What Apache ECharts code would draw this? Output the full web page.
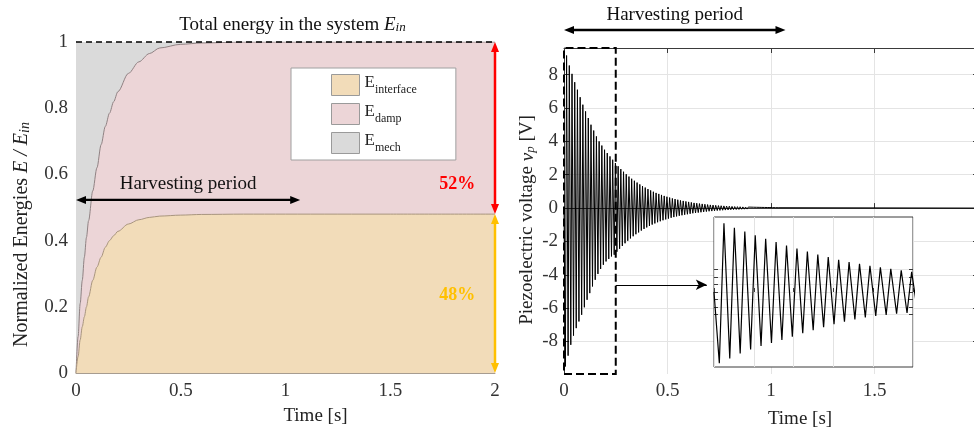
<!DOCTYPE html>
<html>
<head>
<meta charset="utf-8">
<title>Energy balance and piezoelectric voltage</title>
<script src="https://cdn.jsdelivr.net/npm/echarts@6.0.0/dist/echarts.min.js"></script>
<style>
html, body { margin: 0; padding: 0; background: #fff; }
#chart { width: 974px; height: 432px; }
</style>
</head>
<body>
<div id="chart"></div>
<script>
// ---------- Left panel: normalized energy budget (E / E_in) ----------
const energyTime = [0, 0.01, 0.02, 0.03, 0.04, 0.05, 0.06, 0.08, 0.10, 0.12, 0.14, 0.16, 0.18, 0.20, 0.25, 0.30, 0.35, 0.40, 0.50, 0.60, 0.80, 1.00, 1.50, 2.00];
const eInterface = [0, 0.05, 0.10, 0.14, 0.17, 0.20, 0.23, 0.28, 0.32, 0.35, 0.38, 0.40, 0.415, 0.428, 0.45, 0.463, 0.47, 0.474, 0.477, 0.479, 0.48, 0.48, 0.48, 0.48];
const eDamp      = [0, 0.06, 0.11, 0.14, 0.18, 0.21, 0.23, 0.27, 0.30, 0.34, 0.365, 0.385, 0.405, 0.422, 0.455, 0.477, 0.495, 0.508, 0.516, 0.518, 0.52, 0.52, 0.52, 0.52];
const eMech      = [1, 0.89, 0.79, 0.72, 0.65, 0.59, 0.54, 0.45, 0.38, 0.31, 0.255, 0.215, 0.18, 0.15, 0.095, 0.06, 0.035, 0.018, 0.007, 0.003, 0, 0, 0, 0];
const energyNames = ['E_interface', 'E_damp', 'E_mech'];
const dampShare = 0.52;
const interfaceShare = 0.48;

// ---------- Right panel: piezoelectric voltage v_p ----------
const vpFirstPeak = 0.0125;   // time of the first positive peak [s]
const vpPeriod = 0.0131;      // oscillation period [s]
const vpRiseTime = 0.0058;    // negative peak precedes the positive one by this [s]
const vpMax = [9.15, 8.55, 8.05, 7.55, 7.1, 6.65, 6.2, 5.8, 5.4, 5.0, 4.65, 4.3, 4.0, 3.75, 3.5, 3.3, 3.1, 2.9, 2.7,
  2.51, 2.34, 2.18, 2.03, 1.89, 1.76, 1.64, 1.53, 1.42, 1.32, 1.23, 1.14, 1.06, 0.98, 0.91, 0.85, 0.79, 0.73, 0.68, 0.63,
  0.58, 0.54, 0.50, 0.46, 0.43, 0.40, 0.37, 0.34, 0.31, 0.29, 0.27, 0.25, 0.23, 0.21, 0.19, 0.18, 0.165, 0.15, 0.14, 0.13,
  0.12, 0.11, 0.10, 0.09, 0.085, 0.08, 0.07, 0.065, 0.06, 0.055, 0.05, 0.047, 0.044, 0.04, 0.037, 0.034, 0.031, 0.028, 0.025, 0.022];
const vpMin = [-9.5, -8.85, -8.2, -7.65, -7.2, -6.8, -6.4, -5.95, -5.5, -5.1, -4.7, -4.3, -3.95, -3.65, -3.4, -3.2, -3.05, -2.9, -2.8,
  -2.62, -2.44, -2.27, -2.11, -1.96, -1.82, -1.69, -1.57, -1.46, -1.35, -1.25, -1.16, -1.07, -0.99, -0.92, -0.85, -0.79, -0.73, -0.68, -0.63,
  -0.58, -0.54, -0.50, -0.46, -0.43, -0.40, -0.37, -0.34, -0.31, -0.29, -0.27, -0.25, -0.23, -0.21, -0.19, -0.18, -0.165, -0.15, -0.14, -0.13,
  -0.12, -0.11, -0.10, -0.09, -0.085, -0.08, -0.07, -0.065, -0.06, -0.055, -0.05, -0.047, -0.044, -0.04, -0.037, -0.034, -0.031, -0.028, -0.025, -0.022];
const timeEnd = 2;
const vpRange = [-9.95, 9.6];
const vpTicks = [-8, -6, -4, -2, 0, 2, 4, 6, 8];
const zoomWindow = [0, 0.25];
const insetRange = [-10, 10];
const insetTicks = [-3, -2, -1, 0, 1, 2, 3];
const insetArrow = { level: -4.6, end: 0.69 };
const harvestEnd = 1.07;

// ---------- derived series data ----------
// cumulative boundaries of the energy budget (interface, +damp, +mech)
const cumInterface = energyTime.map((t, i) => [t, eInterface[i]]);
const cumDamp = energyTime.map((t, i) => [t, eInterface[i] + eDamp[i]]);
const cumMech = energyTime.map((t, i) => [t, eInterface[i] + eDamp[i] + eMech[i]]);

const vpData = [[0, 0]];
vpMax.forEach((hi, k) => {
  const tPeak = vpFirstPeak + k * vpPeriod;
  vpData.push([tPeak - vpRiseTime, vpMin[k]]);
  vpData.push([tPeak, hi]);
});
vpData.push([vpFirstPeak + vpMax.length * vpPeriod - vpRiseTime, 0]);
vpData.push([timeEnd, 0]);

// ---------- styling ----------
const serif = '"Liberation Serif", "Times New Roman", serif';
const labelColor = '#333';
const fills = ['#F2DCB9', '#ECD5D7', '#DADADA'];

const tickLabel = { fontFamily: serif, fontSize: 19, color: labelColor, showMinLabel: true, showMaxLabel: true };

const chart = echarts.init(document.getElementById('chart'), null, { renderer: 'canvas' });

// areas are painted back to front: the whole budget, then interface+damp, then interface
function areaSeries(i, data, lineStyle, z) {
  return {
    type: 'line', name: energyNames[i], xAxisIndex: 0, yAxisIndex: 0,
    data: data, smooth: 0.3, smoothMonotone: 'x',
    symbol: 'none', showSymbol: false, itemStyle: { color: fills[i] },
    areaStyle: { color: fills[i], opacity: 1, origin: 'start' }, lineStyle: lineStyle, z: z
  };
}

const option = {
  animation: false,
  backgroundColor: '#fff',
  grid: [
    { left: 76, right: 479, top: 42, bottom: 59, outerBoundsMode: 'none' },
    { left: 564, right: -4, top: 48, bottom: 58, outerBoundsMode: 'none' },
    { left: 714, top: 217, width: 199, height: 150, outerBoundsMode: 'none', show: true,
      backgroundColor: '#fff', borderColor: '#3a3a3a', borderWidth: 1, z: 5 }
  ],
  legend: {
    data: energyNames, orient: 'vertical', left: 291, top: 68,
    icon: 'rect', itemWidth: 28, itemHeight: 21, itemGap: 7,
    padding: [6, 39, 6, 40], backgroundColor: '#fff', borderColor: '#a0a0a0', borderWidth: 1,
    itemStyle: { borderColor: '#9a9a9a', borderWidth: 1, borderType: 'solid' },
    selectedMode: false,
    formatter: name => '{e|E}{s|' + name.split('_')[1] + '}',
    textStyle: {
      fontFamily: serif, color: '#222',
      rich: {
        e: { fontFamily: serif, fontSize: 17, color: '#222', lineHeight: 21, verticalAlign: 'top' },
        s: { fontFamily: serif, fontSize: 12, color: '#222', lineHeight: 12, verticalAlign: 'bottom' }
      }
    }
  },
  xAxis: [
    { gridIndex: 0, type: 'value', min: 0, max: 2, interval: 0.5,
      axisLine: { show: true, lineStyle: { color: '#a79c90', width: 1 } },
      axisTick: { show: false }, splitLine: { show: false },
      axisLabel: Object.assign({ margin: 9 }, tickLabel),
      name: 'Time [s]', nameLocation: 'middle', nameGap: 34, nameMoveOverlap: false,
      nameTextStyle: { fontFamily: serif, fontSize: 19, color: '#222', padding: [0, 0, 0, 60] } },
    { gridIndex: 1, type: 'value', min: 0, max: 2, interval: 0.5,
      axisLine: { show: true, lineStyle: { color: '#3a3a3a', width: 1 } },
      axisTick: { show: true, inside: true, length: 5, lineStyle: { color: '#3a3a3a' } },
      splitLine: { show: true, lineStyle: { color: '#e4e4e4', width: 1 } },
      axisLabel: Object.assign({ margin: 8 }, tickLabel),
      name: 'Time [s]', nameLocation: 'middle', nameGap: 36, nameMoveOverlap: false,
      nameTextStyle: { fontFamily: serif, fontSize: 19, color: '#222', padding: [0, 0, 0, 58] } },
    { gridIndex: 1, type: 'value', position: 'top', min: 0, max: 2, interval: 0.5,
      axisLine: { show: true, onZero: false, lineStyle: { color: '#3a3a3a', width: 1 } },
      axisTick: { show: true, inside: true, length: 5, lineStyle: { color: '#3a3a3a' } },
      axisLabel: { show: false }, splitLine: { show: false } },
    { gridIndex: 2, type: 'value', min: zoomWindow[0], max: zoomWindow[1], interval: 0.05, z: 6,
      axisLine: { show: false },
      axisTick: { show: true, inside: true, length: 4, lineStyle: { color: '#3a3a3a' } },
      axisLabel: { show: false },
      splitLine: { show: true, lineStyle: { color: '#e2e2e2', width: 1 } } }
  ],
  yAxis: [
    { gridIndex: 0, type: 'value', min: 0, max: 1, interval: 0.2,
      axisLine: { show: true, lineStyle: { color: '#9c9c9c', width: 1 } },
      axisTick: { show: false }, splitLine: { show: false },
      axisLabel: Object.assign({ margin: 8 }, tickLabel),
      name: '{r|Normalized Energies }{i|E / E}{s|in}', nameLocation: 'middle', nameGap: 44, nameMoveOverlap: false,
      nameTextStyle: { fontFamily: serif, fontSize: 20, color: '#222', padding: [0, 54, 0, 0],
        rich: {
          r: { fontFamily: serif, fontSize: 20, color: '#222' },
          i: { fontFamily: serif, fontSize: 20, fontStyle: 'italic', color: '#222' },
          s: { fontFamily: serif, fontSize: 14, fontStyle: 'italic', color: '#222', verticalAlign: 'bottom', lineHeight: 14 }
        } } },
    { gridIndex: 1, type: 'value', min: vpRange[0], max: vpRange[1],
      axisLine: { show: true, onZero: false, lineStyle: { color: '#3a3a3a', width: 1 } },
      axisTick: { show: true, inside: true, length: 5, customValues: vpTicks, lineStyle: { color: '#3a3a3a' } },
      splitLine: { show: true, lineStyle: { color: '#e4e4e4', width: 1 } },
      axisLabel: Object.assign({ margin: 6, customValues: vpTicks }, tickLabel),
      name: '{r|Piezoelectric voltage }{i|v}{s|p}{r| [V]}', nameLocation: 'middle', nameGap: 27, nameMoveOverlap: false,
      nameTextStyle: { fontFamily: serif, fontSize: 19, color: '#222', padding: [0, 18, 0, 0],
        rich: {
          r: { fontFamily: serif, fontSize: 19, color: '#222' },
          i: { fontFamily: serif, fontSize: 19, fontStyle: 'italic', color: '#222' },
          s: { fontFamily: serif, fontSize: 13, fontStyle: 'italic', color: '#222', verticalAlign: 'bottom', lineHeight: 13 }
        } } },
    { gridIndex: 1, type: 'value', position: 'right', min: vpRange[0], max: vpRange[1],
      axisLine: { show: true, onZero: false, lineStyle: { color: '#3a3a3a', width: 1 } },
      axisTick: { show: true, inside: true, length: 5, customValues: vpTicks, lineStyle: { color: '#3a3a3a' } },
      axisLabel: { show: false, customValues: vpTicks }, splitLine: { show: false } },
    { gridIndex: 2, type: 'value', min: insetRange[0], max: insetRange[1], z: 6,
      axisLine: { show: false },
      axisTick: { show: true, inside: true, length: 4, customValues: insetTicks, lineStyle: { color: '#3a3a3a' } },
      axisLabel: { show: false, customValues: insetTicks },
      splitLine: { show: true, lineStyle: { color: '#e6e6e6', width: 1 } } },
    { gridIndex: 2, type: 'value', position: 'right', min: insetRange[0], max: insetRange[1], z: 6,
      axisLine: { show: false },
      axisTick: { show: true, inside: true, length: 4, customValues: insetTicks, lineStyle: { color: '#3a3a3a' } },
      axisLabel: { show: false, customValues: insetTicks }, splitLine: { show: false } }
  ],
  series: [
    areaSeries(2, cumMech, { width: 0 }, 2),
    areaSeries(1, cumDamp, { color: '#8f8283', width: 1 }, 3),
    areaSeries(0, cumInterface, { color: '#a8957f', width: 1 }, 4),
    {
      // total energy in the system, drawn above the filled areas
      type: 'line', name: 'E_in', xAxisIndex: 0, yAxisIndex: 0, data: cumMech,
      symbol: 'none', showSymbol: false, z: 6, clip: false,
      lineStyle: { color: '#000', width: 1.7, type: [6, 4] }
    },
    {
      type: 'line', name: 'v_p', xAxisIndex: 1, yAxisIndex: 1, data: vpData,
      symbol: 'none', showSymbol: false, sampling: false, z: 3,
      lineStyle: { color: '#000', width: 1 },
      markArea: {
        silent: true, label: { show: false },
        itemStyle: { color: 'rgba(0,0,0,0)', borderColor: '#000', borderWidth: 2, borderType: [8, 4] },
        data: [[{ coord: [zoomWindow[0], vpRange[0]] }, { coord: [zoomWindow[1], vpRange[1]] }]]
      },
      markLine: {
        silent: true, symbol: ['none', 'arrow'], symbolSize: [8, 11], label: { show: false },
        lineStyle: { color: '#000', width: 1, type: 'solid' },
        data: [[{ coord: [zoomWindow[1], insetArrow.level] }, { coord: [insetArrow.end, insetArrow.level] }]]
      }
    },
    {
      type: 'line', name: 'v_p zoom', xAxisIndex: 3, yAxisIndex: 3, data: vpData,
      symbol: 'none', showSymbol: false, sampling: false, clip: true, z: 7,
      lineStyle: { color: '#000', width: 1.2 }
    }
  ]
};
chart.setOption(option);

// ---------- annotations placed through the axes ----------
const p0 = (x, y) => chart.convertToPixel({ xAxisIndex: 0, yAxisIndex: 0 }, [x, y]);
const p1 = (x, y) => chart.convertToPixel({ xAxisIndex: 1, yAxisIndex: 1 }, [x, y]);

function arrow(a, b, color, w, headLen, headW, startHead, endHead) {
  const dx = b[0] - a[0], dy = b[1] - a[1], L = Math.hypot(dx, dy);
  const ux = dx / L, uy = dy / L, nx = -uy, ny = ux;
  const s = startHead ? [a[0] + ux * headLen * 0.8, a[1] + uy * headLen * 0.8] : a;
  const e = endHead ? [b[0] - ux * headLen * 0.8, b[1] - uy * headLen * 0.8] : b;
  const els = [{ type: 'line', silent: true, z: 20, shape: { x1: s[0], y1: s[1], x2: e[0], y2: e[1] },
    style: { stroke: color, lineWidth: w } }];
  const head = (tip, dir) => ({ type: 'polygon', silent: true, z: 20, shape: { points: [
      tip,
      [tip[0] - dir[0] * headLen + nx * headW / 2, tip[1] - dir[1] * headLen + ny * headW / 2],
      [tip[0] - dir[0] * headLen - nx * headW / 2, tip[1] - dir[1] * headLen - ny * headW / 2]
    ] }, style: { fill: color } });
  if (endHead) els.push(head(b, [ux, uy]));
  if (startHead) els.push(head(a, [-ux, -uy]));
  return els;
}

function label(x, y, text, extra) {
  return { type: 'text', silent: true, z: 21, x: x, y: y,
    style: Object.assign({ text: text, fontFamily: serif, fontSize: 19, fill: '#111', align: 'center', verticalAlign: 'middle' }, extra || {}) };
}

const graphics = [];
// total energy reference line caption
const topLeft = p0(0, 1), topRight = p0(2, 1);
graphics.push(label((topLeft[0] + topRight[0]) / 2 + 7, topLeft[1] - 17, '{r|Total energy in the system }{i|E}{s|in}', {
  rich: {
    r: { fontFamily: serif, fontSize: 19, fill: '#111' },
    i: { fontFamily: serif, fontSize: 19, fontStyle: 'italic', fill: '#111' },
    s: { fontFamily: serif, fontSize: 13, fontStyle: 'italic', fill: '#111', verticalAlign: 'bottom', lineHeight: 13 }
  }
}));

// harvesting period, left panel
const hl0 = p0(0, 0.523), hl1 = p0(harvestEnd, 0.523);
graphics.push(...arrow(hl0, hl1, '#000', 2.4, 10, 8, true, true));
graphics.push(label((hl0[0] + hl1[0]) / 2, hl0[1] - 16, 'Harvesting period'));

// harvesting period, right panel
const hr0 = p1(0, vpRange[1]), hr1 = p1(harvestEnd, vpRange[1]);
graphics.push(...arrow([hr0[0], hr0[1] - 18], [hr1[0], hr1[1] - 18], '#000', 2.4, 10, 8, true, true));
graphics.push(label((hr0[0] + hr1[0]) / 2, hr0[1] - 33, 'Harvesting period'));

// share arrows at the end of the simulation
const aTop = p0(2, 1), aMid = p0(2, interfaceShare), aBot = p0(2, 0);
graphics.push(...arrow(aTop, aMid, '#ff0000', 2.5, 10, 8, true, true));
graphics.push(...arrow(aMid, aBot, '#ffc000', 2.5, 10, 8, true, true));
const l52 = p0(1.82, 0.57), l48 = p0(1.82, 0.236);
graphics.push(label(l52[0], l52[1], Math.round(dampShare * 100) + '%', { fill: '#ff0000', fontWeight: 'bold', fontSize: 18 }));
graphics.push(label(l48[0], l48[1], Math.round(interfaceShare * 100) + '%', { fill: '#ffc000', fontWeight: 'bold', fontSize: 18 }));

chart.setOption({ graphic: graphics });
</script>
</body>
</html>
